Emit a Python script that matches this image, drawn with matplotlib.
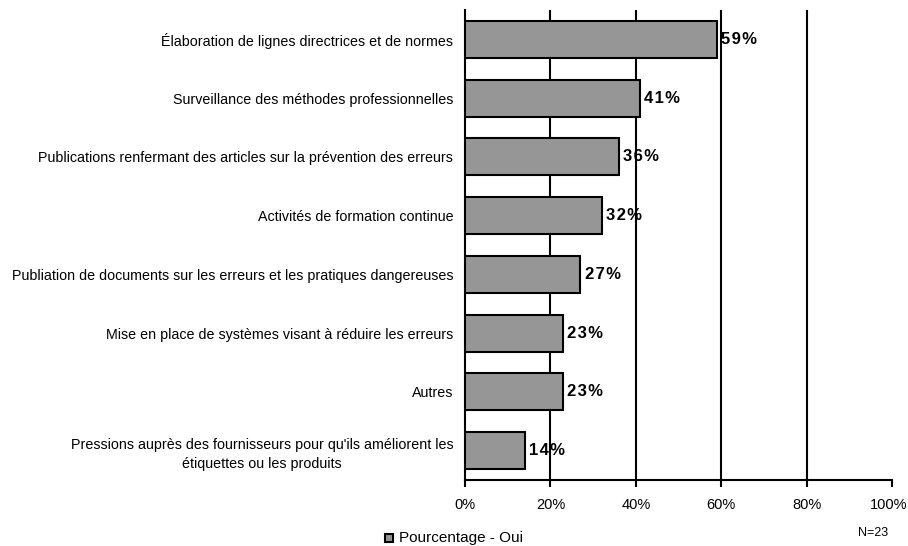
import matplotlib
matplotlib.use("Agg")
import matplotlib.pyplot as plt
from matplotlib.patches import Rectangle
from matplotlib.transforms import ScaledTranslation

plt.rcParams['font.family'] = ['Liberation Sans', 'DejaVu Sans']

categories = [
    "Élaboration de lignes directrices et de normes",
    "Surveillance des méthodes professionnelles",
    "Publications renfermant des articles sur la prévention des erreurs",
    "Activités de formation continue",
    "Publiation de documents sur les erreurs et les pratiques dangereuses",
    "Mise en place de systèmes visant à réduire les erreurs",
    "Autres",
    "Pressions auprès des fournisseurs pour qu'ils améliorent les\nétiquettes ou les produits",
]
values = [59, 41, 36, 32, 27, 23, 23, 14]
xticks = [0, 20, 40, 60, 80, 100]
series_name = "Pourcentage - Oui"
sample_note = "N=23"

bar_color = "#969696"
HAIR = "\u200a"

fig = plt.figure(figsize=(9.08, 5.46), dpi=100)
ax = fig.add_axes([465 / 908, 66 / 546, 427 / 908, 470 / 546])

ypos = list(range(len(categories)))
ax.barh(ypos, values, height=0.63, color=bar_color, edgecolor="black",
        linewidth=1.5, zorder=3)

for y, v in zip(ypos, values):
    label = HAIR.join(f"{v}%")
    ax.text(v + 1.0, y, label, va="center", ha="left", fontsize=12,
            fontweight="bold", zorder=4)

ax.set_xlim(0, 100)
ax.set_ylim(len(categories) - 0.5, -0.5)
ax.set_yticks(ypos)
ax.set_yticklabels(categories, fontsize=10.3, ha="right",
                   multialignment="center", linespacing=1.45)
ax.tick_params(axis="y", length=0, pad=8.5)
ax.set_xticks(xticks)
ax.set_xticklabels([f"{t}%" for t in xticks], fontsize=10.5)
ax.tick_params(axis="x", length=5, width=1.5, direction="out", pad=8)
last = ax.get_xticklabels()[-1]
last.set_transform(last.get_transform()
                   + ScaledTranslation(-3 / 100, 0, fig.dpi_scale_trans))

for t in xticks[1:-1]:
    ax.axvline(t, color="black", linewidth=1.5, zorder=1)

for side in ("top", "right"):
    ax.spines[side].set_visible(False)
for side in ("left", "bottom"):
    ax.spines[side].set_linewidth(1.5)

# legend marker and caption below the axis
fig.patches.append(Rectangle((385 / 908, (546 - 542) / 546), 8 / 908, 8 / 546,
                             transform=fig.transFigure, facecolor=bar_color,
                             edgecolor="black", linewidth=1.5))
fig.text(399 / 908, (546 - 538) / 546, series_name, fontsize=11,
         va="center", ha="left")
fig.text(873 / 908, (546 - 533) / 546, sample_note, fontsize=9,
         va="center", ha="center")

fig.savefig("out.png", dpi=100)
